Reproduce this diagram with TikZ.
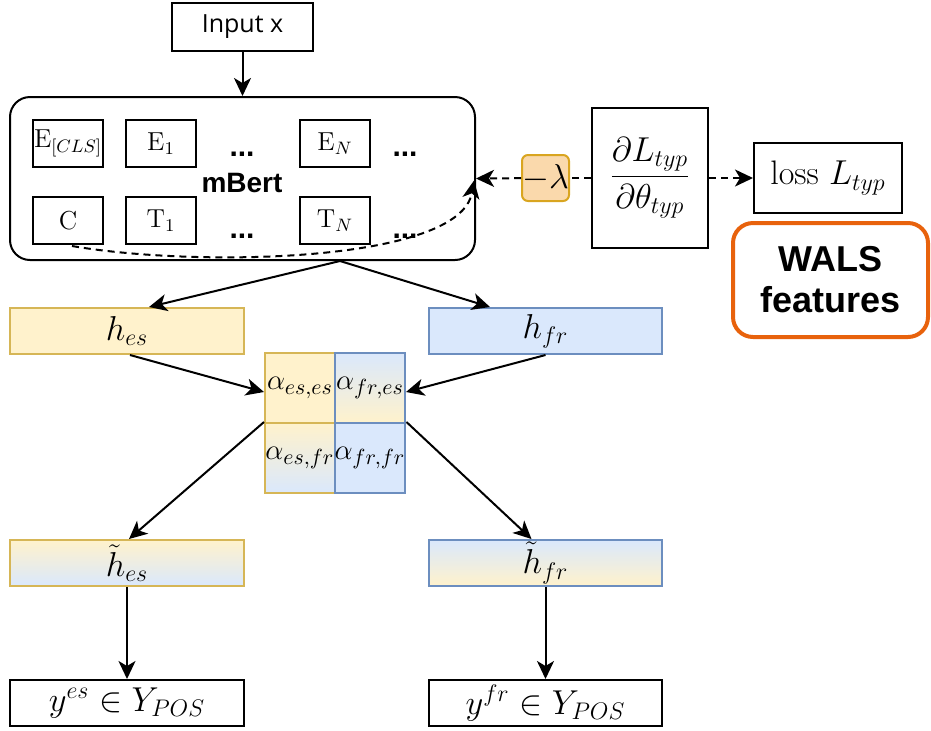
\documentclass[tikz,border=0pt]{standalone}
\usepackage{amsmath}
\usepackage{fontspec}
\setsansfont{Liberation Sans}
\newfontfamily\inpfont{Open Sans}
\usetikzlibrary{arrows.meta,calc}
\definecolor{yelF}{HTML}{FFF2CC}
\definecolor{yelD}{HTML}{D6B656}
\definecolor{bluF}{HTML}{DAE8FC}
\definecolor{bluD}{HTML}{6C8EBF}
\definecolor{lamF}{HTML}{FAD9AC}
\definecolor{lamD}{HTML}{D9A520}
\definecolor{walsD}{HTML}{E8620C}
\tikzset{
  sz/.style 2 args={minimum width=#1*0.5pt, minimum height=#2*0.5pt},
  box/.style={draw, line width=1pt, inner sep=0pt},
  mathf/.style={font=\fontsize{18}{21}\selectfont},
  small/.style={font=\fontsize{13}{15}\selectfont},
  alph/.style={font=\fontsize{15.5}{18}\selectfont},
  tip/.style={-{Stealth[length=9pt,width=8.5pt,inset=2.5pt]}},
  conn/.style={line width=1pt, tip},
  dsh/.style={line width=1pt, dash pattern=on 3.5pt off 2.5pt},
  dots/.style={font=\sffamily\bfseries\fontsize{15}{17}\selectfont, anchor=base, inner sep=0pt}
}
\begin{document}
\begin{tikzpicture}[x=0.5pt,y=-0.5pt]
\useasboundingbox (0,0) rectangle (931,730);
% top
\node[box, sz={141}{48}, font=\inpfont\fontsize{12.5}{14}\selectfont] (inp) at (242.5,27) {Input x};
\node[draw, line width=1pt, rounded corners=10pt, sz={465}{163}] (mb) at (242.5,178.5) {};
\node[font=\sffamily\bfseries\fontsize{14}{16}\selectfont] (mbt) at (242,183) {mBert};
\node[box, sz={70}{47}, small] (ecls) at (68,143.5) {$\mathrm{E}_{[CLS]}$};
\node[box, sz={70}{47}, small] (e1) at (161,143.5) {$\mathrm{E}_1$};
\node[box, sz={70}{47}, small] (eN) at (335,143.5) {$\mathrm{E}_N$};
\node[box, sz={70}{47}, small] (c) at (68,220.5) {$\mathrm{C}$};
\node[box, sz={70}{47}, small] (t1) at (161,220.5) {$\mathrm{T}_1$};
\node[box, sz={70}{47}, small] (tN) at (335,220.5) {$\mathrm{T}_N$};
\node[dots] (d1) at (242,156) {...};
\node[dots] (d2) at (405,156) {...};
\node[dots] (d3) at (242,238) {...};
\node[dots] (d4) at (405,238) {...};
% right side
\node[draw=lamD, fill=lamF, line width=1pt, rounded corners=3pt, inner sep=0pt, sz={47}{46}, font=\fontsize{17}{20}\selectfont] (lam) at (545.5,178) {$-\lambda$};
\node[box, sz={116}{140}, font=\fontsize{17}{20}\selectfont] (fr) at (650,178) {$\dfrac{\partial L_{typ}}{\partial \theta_{typ}}$};
\node[box, sz={148}{70}, font=\fontsize{17}{20}\selectfont] (loss) at (828,178) {loss $L_{typ}$};
\node[draw=walsD, line width=2pt, rounded corners=10pt, sz={195}{114}, align=center, font=\sffamily\bfseries\fontsize{18}{20.5}\selectfont] (wals) at (830.5,280) {WALS\\features};
% h boxes
\node[box, draw=yelD, fill=yelF, sz={234}{46}, mathf] (hes) at (127,331) {$h_{es}$};
\node[box, draw=bluD, fill=bluF, sz={233}{46}, mathf] (hfr) at (545.5,331) {$h_{fr}$};
% grid
\node[box, draw=yelD, fill=yelF, sz={70}{70}, alph] (a11) at (300,388) {$\alpha_{es,es}$};
\node[box, draw=yelD, top color=yelF, bottom color=bluF, sz={70}{70}, alph] (a12) at (300,458) {$\alpha_{es,fr}$};
\node[box, draw=bluD, top color=bluF, bottom color=yelF, sz={70}{70}, alph] (a21) at (370,388) {$\alpha_{fr,es}$};
\node[box, draw=bluD, fill=bluF, sz={70}{70}, alph] (a22) at (370,458) {$\alpha_{fr,fr}$};
% tilde boxes
\node[box, draw=yelD, top color=yelF, bottom color=bluF, sz={234}{46}, mathf] (htes) at (127,563) {$\tilde{h}_{es}$};
\node[box, draw=bluD, top color=bluF, bottom color=yelF, sz={233}{46}, mathf] (htfr) at (545.5,563) {$\tilde{h}_{fr}$};
% outputs
\node[box, sz={234}{46}, mathf] (yes) at (127,703) {$y^{es}\in Y_{POS}$};
\node[box, sz={233}{46}, mathf] (yfr) at (545.5,703) {$y^{fr}\in Y_{POS}$};
% connectors
\draw[conn] (inp) -- (mb);
\coordinate (j) at ($(mb.south)+(97.5,0)$);
\draw[conn] (j) -- ($(hes.north)+(22,0)$);
\draw[conn] (j) -- ($(hfr.north)+(-55.5,0)$);
\draw[conn] ($(hes.south)+(3,0)$) -- ($(a11.west)+(0,4)$);
\draw[conn] (hfr.south) -- ($(a21.east)+(0,4)$);
\draw[conn] (a12.north west) -- ($(htes.north)+(2,0)$);
\draw[conn] (a22.north east) -- ($(htfr.north)+(-14,0)$);
\draw[conn] (htes) -- (yes);
\draw[conn] (htfr) -- (yfr);
\draw[dsh, tip] (lam) -- (mb.east);
\draw[dsh] (fr) -- (lam);
\draw[dsh, tip] (fr) -- (loss);
\draw[dsh, tip] ($(c.south)+(4,1)$) .. controls (200,268) and (460,262) .. ($(mb.east)+(-2,2)$);
\end{tikzpicture}
\end{document}
